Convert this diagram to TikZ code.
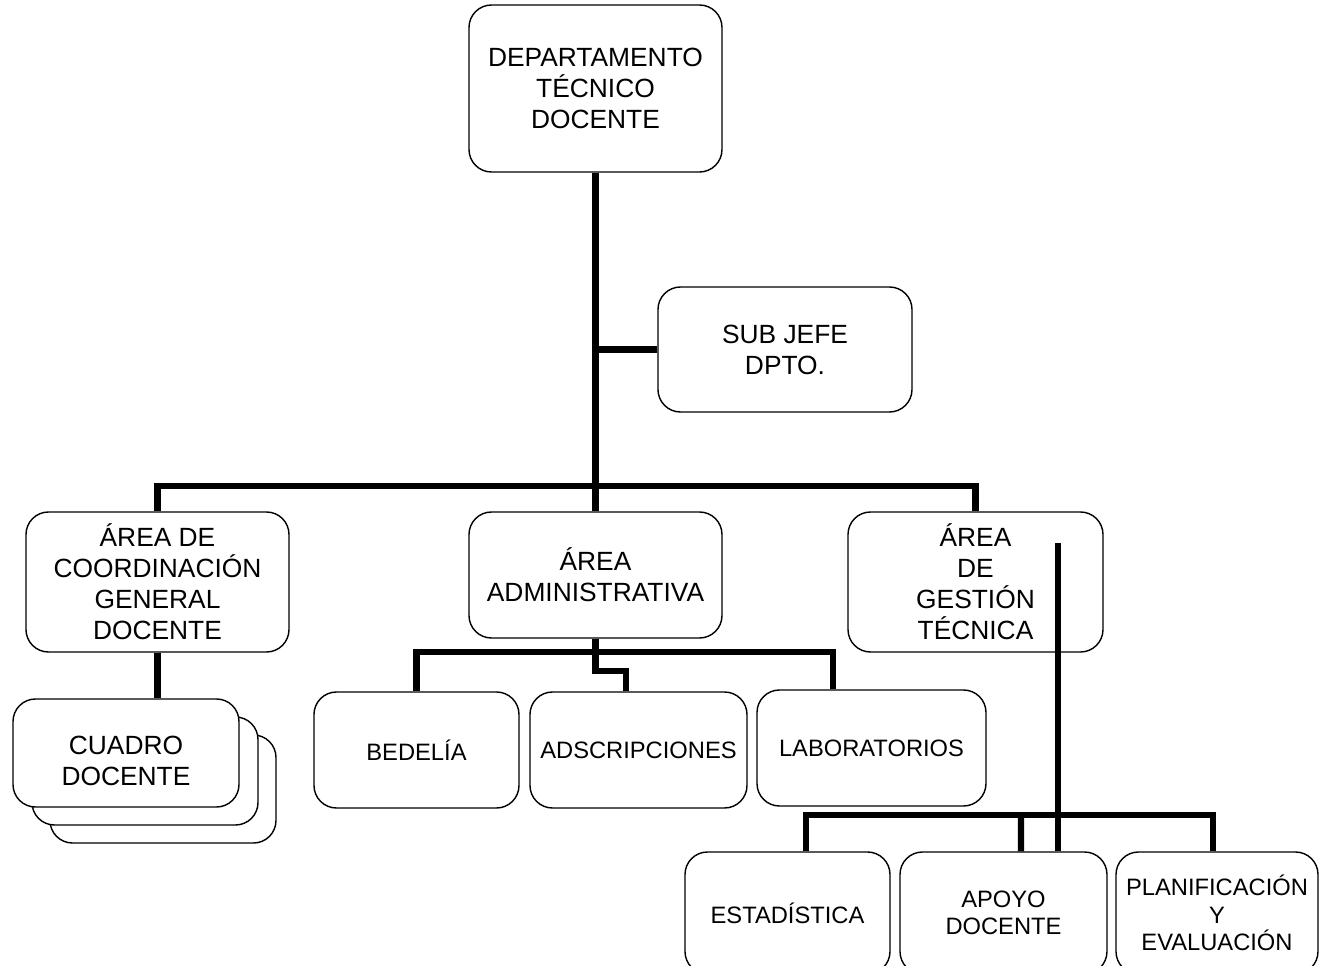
\documentclass[tikz,border=0pt]{standalone}
\usepackage{fontspec}
\setmainfont{Liberation Sans}
\usetikzlibrary{calc}
\tikzset {
  % connector between units
  link/.style = {
    draw = black,
    line width = 3.6pt
  },
  % rounded unit box, width and height in pixels
  unit/.style 2 args = {
    draw = black,
    fill = white,
    line width = 0.8pt,
    rounded corners = 0.45cm,
    minimum width = #1*0.02cm,
    minimum height = #2*0.02cm,
    align = center,
    inner sep = 0,
    font = \fontsize{15}{17.6}\selectfont
  },
  % lower level unit, smaller text
  subunit/.style 2 args = {
    unit = {#1}{#2},
    font = \fontsize{13.5}{15.6}\selectfont
  }
}

\begin{document}
\begin{tikzpicture}[x=0.02cm, y=-0.02cm]
    \useasboundingbox (0,0) rectangle (1323,966);

    \node[unit={253}{167}] (depto) at (595.5,88.5) {DEPARTAMENTO\\TÉCNICO\\DOCENTE};
    \node[unit={254}{125}] (subjefe) at (785,349.5) {SUB JEFE\\DPTO.};

    \node[unit={263}{140}] (coord) at (157.5,582) {ÁREA DE\\COORDINACIÓN\\GENERAL\\DOCENTE};
    \node[unit={253}{126}] (admin) at (595.5,575) {ÁREA\\ADMINISTRATIVA};
    \node[unit={255}{140}] (gestion) at (975.5,582) {ÁREA\\DE\\GESTIÓN\\TÉCNICA};

    % stacked boxes, back to front
    \node[unit={226}{108}] (cuadro-c) at (163,789) {};
    \node[unit={226}{108}] (cuadro-b) at (145,771) {};
    \node[unit={226}{108}] (cuadro) at (126,753) {\rule{0pt}{20pt}CUADRO\\DOCENTE};

    \node[subunit={205}{116}] (bedelia) at (416.5,750) {BEDELÍA};
    \node[subunit={217}{116}] (adscrip) at (638.5,750) {ADSCRIPCIONES};
    \node[subunit={229}{116}] (labor) at (871.5,748) {LABORATORIOS};

    \node[subunit={205}{122}] (estad) at (787.5,913) {ESTADÍSTICA};
    \node[subunit={207}{122}] (apoyo) at (1003.5,913) {APOYO\\DOCENTE};
    \node[subunit={202}{122}] (planif) at (1217,913) {PLANIFICACIÓN\\Y\\EVALUACIÓN};

    \coordinate (adminbus) at (595,652);
    \coordinate (gvtop) at (1058,543);
    \coordinate (gbus) at (1021,815);

    % head and sub chief
    \draw[link] (depto.south) -- (admin.north);
    \draw[link] (subjefe.west) -- (subjefe.west -| depto.south);

    % first level
    \draw[link] (coord.north) -- ++(0,-25) -| (gestion.north);
    \draw[link] (coord.south) -- (coord.south |- cuadro.north);

    % administrative area
    \draw[link] (bedelia.north) |- (adminbus) -| ([xshift=-0.77cm]labor.north);
    \draw[link] (admin.south) -- ++(0,32) -| ([xshift=-0.25cm]adscrip.north);

    % technical area
    \draw[link] (gvtop) -- (gvtop |- apoyo.north);
    \draw[link] ([xshift=0.37cm]estad.north) |- (gbus) -| ([xshift=-0.08cm]planif.north);
    \draw[link] (gbus) -- ([xshift=0.35cm]apoyo.north);
  \end{tikzpicture}
\end{document}
